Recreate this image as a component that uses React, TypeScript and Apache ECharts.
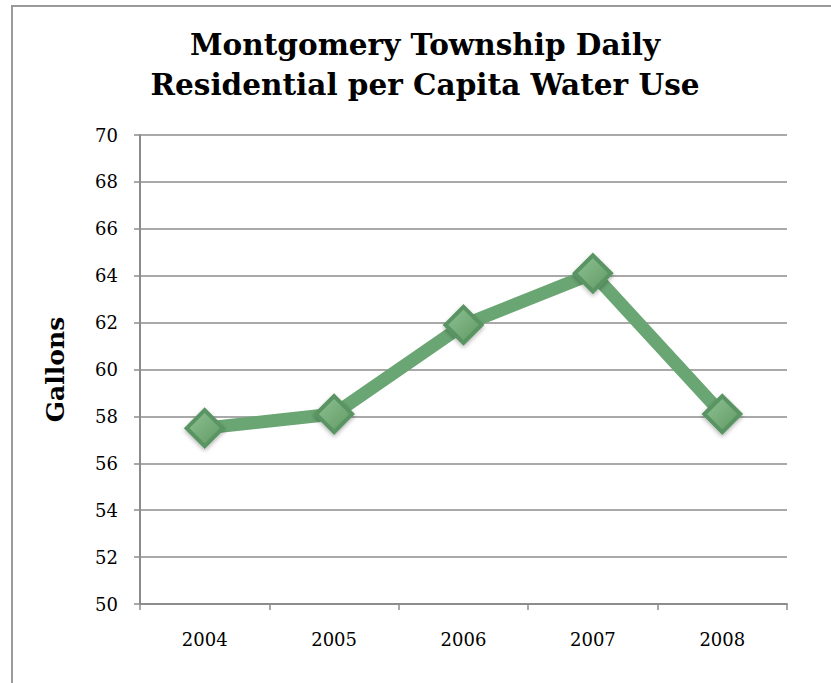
import React, { useEffect, useRef } from "react";
import * as echarts from "echarts";

const years = ["2004", "2005", "2006", "2007", "2008"];
const gallons = [57.5, 58.1, 61.9, 64.1, 58.1];
const titleText = "Montgomery Township Daily\nResidential per Capita Water Use";
const yAxisName = "Gallons";

export default function App() {
  const ref = useRef<HTMLDivElement>(null);
  useEffect(() => {
    document.body.style.margin = "0";
    const chart = echarts.init(ref.current!, null, { renderer: "svg" });
    chart.setOption({
      animation: false,
      backgroundColor: "#ffffff",
      title: {
        text: titleText,
        left: 420,
        textAlign: "center",
        top: 19,
        textStyle: {
          fontFamily: "DejaVu Serif",
          fontWeight: "bold",
          fontSize: 29.5,
          lineHeight: 40,
          color: "#000",
        },
      },
      graphic: [
        {
          type: "rect",
          shape: { x: 12, y: 6, width: 840, height: 700 },
          style: { fill: "none", stroke: "#9a9a9a", lineWidth: 2 },
          silent: true,
        },
      ],
      grid: { left: 140, right: 44, top: 135, bottom: 79 },
      xAxis: {
        type: "category",
        data: years,
        boundaryGap: true,
        axisLine: { lineStyle: { color: "#8c8c8c", width: 2 } },
        axisTick: { show: true, length: 6, inside: false, lineStyle: { color: "#8c8c8c", width: 1.5 } },
        axisLabel: {
          margin: 26,
          fontFamily: "DejaVu Serif",
          fontSize: 18,
          color: "#000",
        },
      },
      yAxis: {
        type: "value",
        min: 50,
        max: 70,
        interval: 2,
        name: yAxisName,
        nameLocation: "middle",
        nameGap: 72,
        nameRotate: 90,
        nameTextStyle: {
          fontFamily: "DejaVu Serif",
          fontWeight: "bold",
          fontSize: 25,
          color: "#000",
        },
        axisLine: { show: true, lineStyle: { color: "#8c8c8c", width: 2 } },
        axisTick: { show: true, length: 6, lineStyle: { color: "#8c8c8c", width: 1.5 } },
        splitLine: { lineStyle: { color: "#8c8c8c", width: 1.5 } },
        axisLabel: {
          margin: 22,
          fontFamily: "DejaVu Serif",
          fontSize: 18,
          color: "#000",
        },
      },
      series: [
        {
          type: "line",
          data: gallons,
          lineStyle: { color: "#6aa673", width: 13 },
          symbol: "diamond",
          symbolSize: 36,
          itemStyle: {
            color: new echarts.graphic.LinearGradient(0, 0, 1, 1, [
              { offset: 0, color: "#8fc397" },
              { offset: 1, color: "#5f985f" },
            ]),
            borderColor: "#5a9464",
            borderWidth: 4,
            shadowColor: "rgba(0,0,0,0.3)",
            shadowBlur: 4,
            shadowOffsetY: 2,
          },
          z: 3,
        },
      ],
    });
    return () => chart.dispose();
  }, []);
  return <div ref={ref} style={{ width: 831, height: 683 }} />;
}
